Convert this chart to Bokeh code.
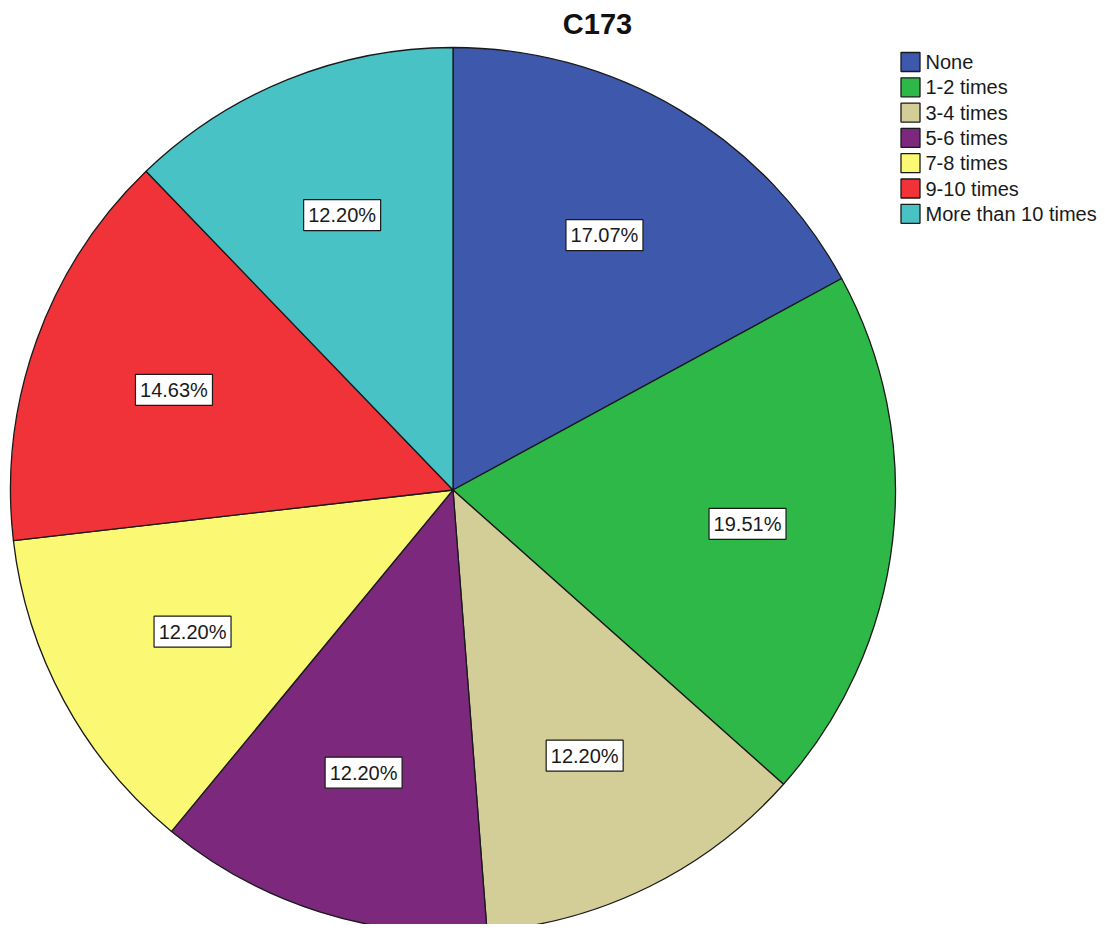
import numpy as np
from bokeh.plotting import figure
from bokeh.models import Range1d, ColumnDataSource
from bokeh.core.properties import value
from bokeh.embed import file_html
from bokeh.resources import INLINE

# ---- data ----
title = "C173"
categories = ["None", "1-2 times", "3-4 times", "5-6 times", "7-8 times", "9-10 times", "More than 10 times"]
percents = [17.07, 19.51, 12.20, 12.20, 12.20, 14.63, 12.20]
colors = ["#3E58AC", "#2EB848", "#D3CE97", "#7C287D", "#FBF873", "#EF3338", "#48C2C5"]

# ---- layout (reference pixel space, y flipped) ----
W, H = 1097, 924
IMG_H = 932
p = figure(width=W, height=H, output_backend="svg", toolbar_location=None,
           x_range=Range1d(0, W), y_range=Range1d(IMG_H - H, IMG_H), min_border=0)
p.axis.visible = False
p.xgrid.visible = False
p.ygrid.visible = False
p.outline_line_color = None
p.background_fill_color = "white"
p.border_fill_color = "white"

FONT = value("Liberation Sans")
cx, cy, R = 452.5, IMG_H - 489.5, 442.5

fr = np.array(percents) / sum(percents)
cum = np.concatenate([[0.0], np.cumsum(fr)])
start = np.pi / 2 - cum[:-1] * 2 * np.pi
end = np.pi / 2 - cum[1:] * 2 * np.pi

src = ColumnDataSource(dict(start=start, end=end, color=colors, cat=categories))
p.wedge(x=cx, y=cy, radius=R, start_angle="start", end_angle="end", direction="clock",
        fill_color="color", line_color="#1a1a1a", line_width=1.3, source=src)

mid = (start + end) / 2
lr = 0.67 * R
lx = cx + lr * np.cos(mid)
ly = cy + lr * np.sin(mid)
labels = [f"{v:.2f}%" for v in percents]
lsrc = ColumnDataSource(dict(x=lx, y=ly, t=labels))
p.rect(x="x", y="y", width=77, height=31, width_units="screen", height_units="screen",
       fill_color="white", line_color="#1a1a1a", line_width=1.2, source=lsrc)
p.text(x="x", y="y", text="t", text_align="center", text_baseline="middle",
       text_font=FONT, text_font_size="20px", text_color="#1a1a1a", source=lsrc)

# ---- legend ----
n = len(categories)
leg_y = IMG_H - (61.5 + 25.3 * np.arange(n))
gsrc = ColumnDataSource(dict(x=[910.0] * n, tx=[925.0] * n, y=leg_y, color=colors, cat=categories))
p.rect(x="x", y="y", width=19, height=19, width_units="screen", height_units="screen",
       fill_color="color", line_color="#1a1a1a", line_width=1.3, source=gsrc)
p.text(x="tx", y="y", text="cat", text_align="left", text_baseline="middle",
       text_font=FONT, text_font_size="20px", text_color="#1a1a1a", source=gsrc)

# ---- title ----
p.text(x=[597], y=[IMG_H - 23], text=[title], text_align="center", text_baseline="middle",
       text_font=FONT, text_font_size="29px", text_font_style="bold", text_color="#111111")

open("out.html", "w").write(file_html(p, INLINE))
